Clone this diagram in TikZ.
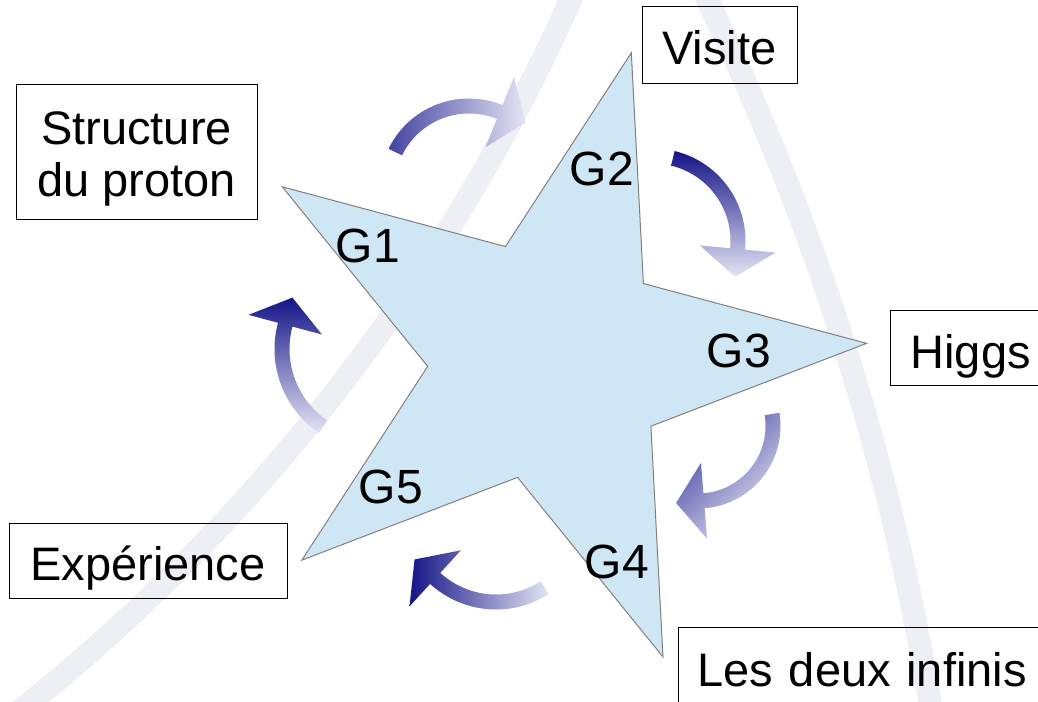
\documentclass[tikz,border=0pt]{standalone}
\usepackage{fontspec}
\setmainfont{Liberation Sans}
\definecolor{bandcol}{RGB}{238,238,245}
\definecolor{starfill}{RGB}{207,230,244}
\definecolor{staredge}{RGB}{128,128,128}
\definecolor{navy}{RGB}{20,20,135}
\definecolor{midblue}{RGB}{68,68,162}
\definecolor{paleblue}{RGB}{228,228,244}
\newcommand{\arrhw}{7.5}
\newcommand{\arrhh}{38}
\newcommand{\arrhl}{28}
% curved arrow: #1 cx, #2 cy, #3 radius, #4 start angle, #5 end angle, #6 shading options
\newcommand{\curvarrow}[6]{%
  \shade[#6] plot[domain=#4:#5, samples=40] ({#1+(#3+\arrhw)*cos(\x)},{#2-(#3+\arrhw)*sin(\x)})
    -- ({#1+(#3+\arrhh)*cos(#5)},{#2-(#3+\arrhh)*sin(#5)})
    -- ({#1+#3*cos(#5)+\arrhl*sin(#5)},{#2-#3*sin(#5)+\arrhl*cos(#5)})
    -- ({#1+(#3-\arrhh)*cos(#5)},{#2-(#3-\arrhh)*sin(#5)})
    -- plot[domain=#5:#4, samples=40] ({#1+(#3-\arrhw)*cos(\x)},{#2-(#3-\arrhw)*sin(\x)})
    -- cycle;}
\tikzset{
  box/.style={draw=black, line width=1pt, inner sep=0pt, font=\fontsize{47}{52}\selectfont},
  single/.style={text height=40pt, text depth=0pt},
  glabel/.style={inner sep=0pt, font=\fontsize{48}{52}\selectfont, anchor=base},
  band/.style={draw=bandcol, line width=23pt},
  starstyle/.style={fill=starfill, draw=staredge, line width=1pt, line join=miter},
}
\begin{document}
\begin{tikzpicture}[x=1pt,y=-1pt]
\useasboundingbox (0,0) rectangle (1038,701);
\clip (0,0) rectangle (1038,701);
% background bands
\draw[band] plot[domain=-57:-20, samples=120] ({-1160+1895*cos(\x)},{-772-1895*sin(\x)});
\draw[band] plot[domain=5:28, samples=120] ({-1631+2596*cos(\x)},{1127-2596*sin(\x)});
% boxes
\node[box, minimum width=241pt, minimum height=135pt, align=center] (proton) at (136.5,151.5) {\rule{0pt}{48pt}Structure\\du proton};
\node[box, single, minimum width=155pt, minimum height=76pt] (visite) at (719.5,45) {Visite};
\node[box, single, anchor=north west, minimum height=75pt, text width=200pt, inner xsep=20pt, align=left] (higgs) at (890,310) {Higgs};
\node[box, single, minimum width=278pt, minimum height=75pt] (exp) at (148,560.5) {Expérience};
\node[box, single, anchor=north west, minimum height=78pt, text width=380pt, inner xsep=19pt, align=left] (ldi) at (678,627) {Les deux infinis};
% star
\coordinate (sc) at (549,360);
\draw[starstyle]
  ({549+318*cos(3)},{360-318*sin(3)}) -- ({549+121.5*cos(39)},{360-121.5*sin(39)})
  -- ({549+318*cos(75)},{360-318*sin(75)}) -- ({549+121.5*cos(111)},{360-121.5*sin(111)})
  -- ({549+318*cos(147)},{360-318*sin(147)}) -- ({549+121.5*cos(183)},{360-121.5*sin(183)})
  -- ({549+318*cos(219)},{360-318*sin(219)}) -- ({549+121.5*cos(255)},{360-121.5*sin(255)})
  -- ({549+318*cos(291)},{360-318*sin(291)}) -- ({549+121.5*cos(327)},{360-121.5*sin(327)})
  -- cycle;
% labels
\node[glabel] (g1) at (368,262) {G1};
\node[glabel] (g2) at (602,185) {G2};
\node[glabel] (g3) at (739,367) {G3};
\node[glabel] (g4) at (617,578) {G4};
\node[glabel] (g5) at (391,503) {G5};
% curved arrows
\curvarrow{469}{188}{82}{154}{68}{left color=midblue, right color=paleblue}
\curvarrow{653}{241}{85}{76.5}{-5.4}{top color=navy, bottom color=paleblue}
\curvarrow{698}{426}{75}{9.2}{-85.4}{top color=midblue, bottom color=paleblue, shading angle=45}
\curvarrow{496}{512}{90}{-57.2}{-132.5}{left color=navy, right color=paleblue}
\curvarrow{376}{349}{94}{-124.2}{-195}{top color=navy, bottom color=paleblue}
\end{tikzpicture}
\end{document}
